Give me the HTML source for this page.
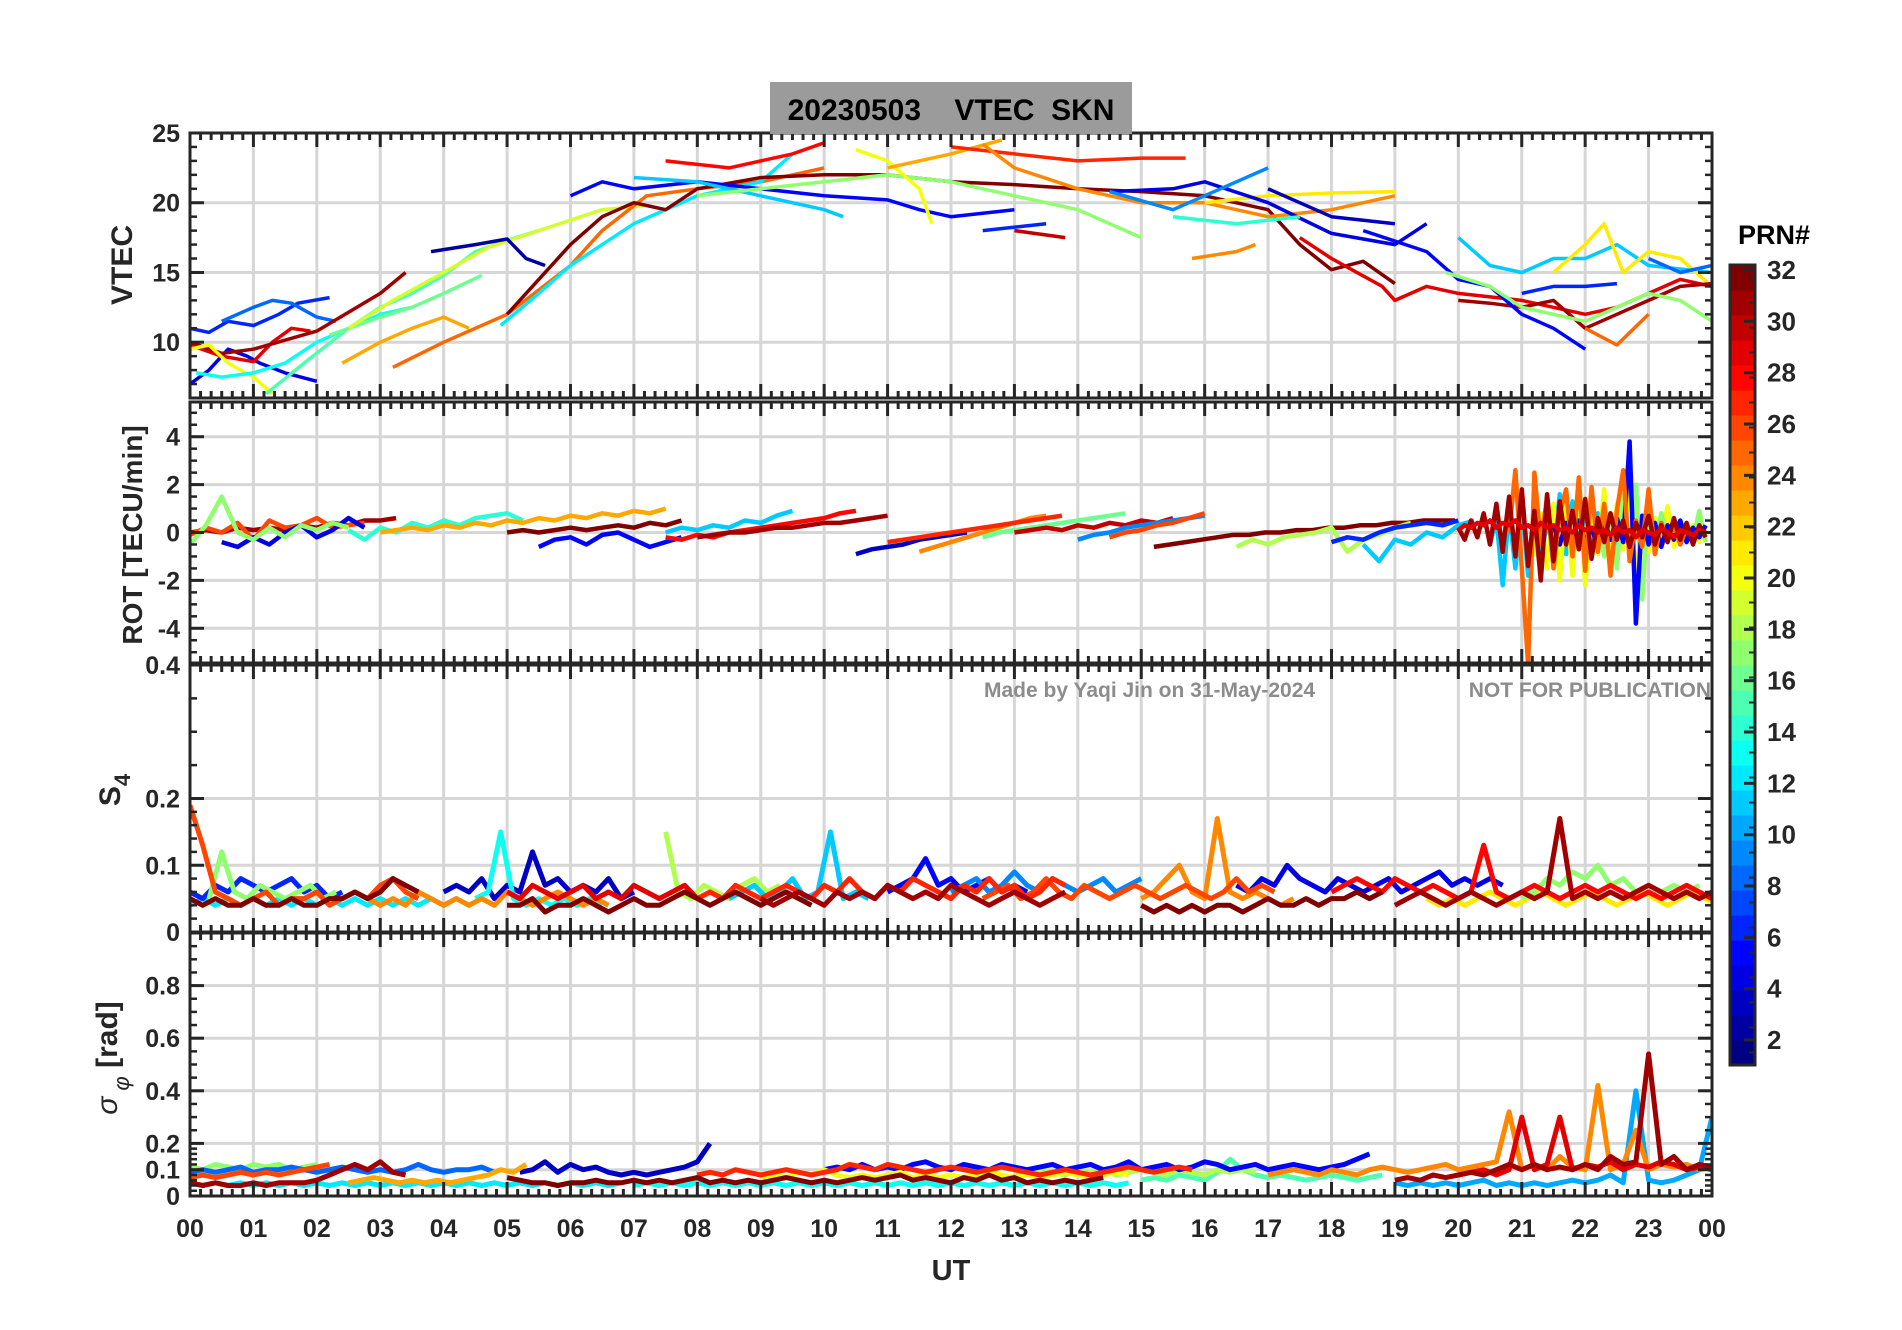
<!DOCTYPE html>
<html><head><meta charset="utf-8">
<style>
html,body{margin:0;padding:0;background:#fff;}
svg{display:block;font-family:"Liberation Sans",Arial,sans-serif;}
</style></head>
<body>
<svg id="chart" xmlns="http://www.w3.org/2000/svg" width="1902" height="1330" viewBox="0 0 1902 1330"></svg>
<script>
// ---------- DATA ----------
const hourTicks = ["00","01","02","03","04","05","06","07","08","09","10","11","12","13","14","15","16","17","18","19","20","21","22","23","00"];
const vtecTicks = [10,15,20,25];
const rotTicks = [-4,-2,0,2,4];
const s4Ticks = [0,0.1,0.2,0.4];
const sigTicks = [0,0.1,0.2,0.4,0.6,0.8];
const prnTicks = [2,4,6,8,10,12,14,16,18,20,22,24,26,28,30,32];

// VTEC arcs: [prn, [[hour, value], ...]]
const vtecArcs = [
 [6,[[0,11],[0.3,10.7],[0.6,11.5],[1,11.2],[1.4,12],[1.7,12.8],[2.2,13.2]]],
 [8,[[0.5,11.5],[1,12.5],[1.3,13],[1.6,12.8],[2,11.8],[2.3,11.5]]],
 [4,[[0,7],[0.3,8],[0.6,9.5],[0.9,9],[1.1,8.5],[1.5,7.8],[2,7.2]]],
 [29,[[0,9.8],[0.5,9],[1,8.6],[1.3,10],[1.6,11],[1.9,10.8]]],
 [31,[[0,10],[0.5,9.2],[1,9.5],[2,10.8],[3,13.5],[3.4,15]]],
 [20,[[0,9.5],[0.3,9.8],[0.6,8.5],[1,7.5],[1.3,6.3]]],
 [13,[[0.1,7.8],[0.5,7.5],[1,7.8],[1.5,8.5],[2,10],[2.5,11],[3,12],[3.5,12.5]]],
 [15,[[1.2,6.3],[1.8,8.5],[2.5,11],[3,12.5],[3.5,13.5],[4,14.8],[4.5,16.5],[5,17.3],[5.5,18]]],
 [16,[[2.2,10.5],[3,11.8],[3.5,12.5],[4,13.5],[4.6,14.8]]],
 [19,[[2.5,11],[3.2,13],[4,15],[4.7,16.8],[5.5,18],[6.5,19.5],[7.2,19.8]]],
 [23,[[2.4,8.5],[3,10],[3.5,11],[4,11.8],[4.4,11]]],
 [25,[[3.2,8.2],[4,10],[5,12],[6,15.5],[6.5,18],[7.2,20.5],[8,21],[9,21.5],[10,22.5]]],
 [12,[[4.9,11.2],[5.5,13.5],[6,15.5],[6.5,17],[7,18.5],[8,20.5],[9,21.5],[9.5,23.5]]],
 [32,[[5,12],[5.5,14.5],[6,17],[6.5,19],[7,20],[7.5,19.5],[8,21],[9,21.8],[10,22],[11,22],[12,21.5],[13,21.3],[14,21],[15,20.8],[16,20.5],[17,19.5],[17.5,17],[18,15.2],[18.5,15.8],[19,14.2]]],
 [2,[[3.8,16.5],[4.5,17],[5,17.4],[5.3,16],[5.6,15.5]]],
 [5,[[6,20.5],[6.5,21.5],[7,21],[8,21.5],[9,21],[10,20.5],[11,20.2],[11.5,19.5],[12,19],[13,19.5]]],
 [11,[[7,21.8],[8,21.5],[9,20.5],[10,19.5],[10.3,19]]],
 [17,[[8,20.5],[9,21],[10,21.5],[11,22],[12,21.5],[13,20.5],[14,19.5],[15,17.5]]],
 [20,[[10.5,23.8],[11,23],[11.5,21],[11.7,18.5]]],
 [23,[[11,22.5],[12,23.5],[12.8,24.5]]],
 [28,[[7.5,23],[8.5,22.5],[9.5,23.5],[10,24.3]]],
 [27,[[12,24],[13,23.5],[14,23],[15,23.2],[15.7,23.2]]],
 [24,[[12.5,24.2],[13,22.5],[14,21],[15,20],[16,20],[17,19],[18,19.5],[19,20.5]]],
 [21,[[16,20],[17,20.5],[18,20.7],[19,20.8]]],
 [4,[[14.5,20.8],[15.5,21],[16,21.5],[17,20],[18,17.8],[19,17],[19.5,18.5]]],
 [3,[[17,21],[18,19],[19,18.5]]],
 [9,[[14.5,20.8],[15.5,19.5],[16.5,21.5],[17,22.5]]],
 [14,[[15.5,19],[16.5,18.5],[17.5,19]]],
 [24,[[15.8,16],[16.5,16.5],[16.8,17]]],
 [30,[[13,18],[13.8,17.5]]],
 [6,[[12.5,18],[13.5,18.5]]],
 [29,[[17.5,17.5],[18,16],[18.8,14],[19,13],[19.5,14],[20,13.5],[21,13],[22,12],[22.5,12.5],[23,13.5],[23.5,14.5],[24,14]]],
 [11,[[20,17.5],[20.5,15.5],[21,15],[21.5,16],[22,16],[22.5,17],[23,15.5],[24,15]]],
 [21,[[21.5,15],[22,17],[22.3,18.5],[22.6,15],[23,16.5],[23.5,16],[24,14]]],
 [6,[[21,13.5],[21.5,14],[22,14],[22.5,14.2]]],
 [31,[[20,13],[20.5,12.8],[21,12.5],[21.5,13],[22,11],[22.5,12],[23,13],[23.5,14],[24,14.2]]],
 [25,[[22,11],[22.5,9.8],[23,12]]],
 [5,[[18.5,18],[19.5,16.5],[20,14.5],[20.5,14],[21,12],[21.5,11],[22,9.5]]],
 [17,[[19.8,15],[20.5,14],[21,12.5],[22,11.5],[23,13.5],[23.5,13],[24,11.5]]],
 [8,[[23,16],[23.5,15],[24,15.5]]]
];

// ROT arcs: [prn, startHour, stepHours, values]
const rotArcs = [
 [31,0,0.25,[0,0.1,0,0.2,0.1,0.2,0.1,0.3,0.2,0.4,0.3,0.5,0.5,0.6]],
 [26,0,0.25,[-0.1,0.2,0,0.4,-0.3,0.5,0.2,0.3,0.6,0.2,0.3,0.4]],
 [4,0.5,0.25,[-0.4,-0.6,-0.2,-0.5,0,0.3,-0.2,0.1,0.6,0.2]],
 [17,0,0.25,[-0.5,0.3,1.5,0,-0.3,0.2,-0.2,0.3,0.1,0.4,0.2]],
 [14,2.5,0.25,[0.1,-0.3,0.2,0,0.4,0.2,0.5,0.3,0.6,0.7,0.8,0.5]],
 [23,3,0.25,[0,0.1,0.2,0.1,0.3,0.2,0.4,0.3,0.5,0.4,0.6,0.5,0.7,0.6,0.8,0.7,0.9,0.8,1.0]],
 [32,5,0.25,[0,0.1,0,0.1,0.2,0.1,0.2,0.3,0.2,0.4,0.3,0.5]],
 [5,5.5,0.25,[-0.6,-0.3,-0.2,-0.5,-0.1,0,-0.3,-0.6,-0.4,-0.2]],
 [11,7.5,0.25,[0,0.2,0.1,0.3,0.2,0.5,0.4,0.7,0.9]],
 [28,7.5,0.25,[-0.2,-0.3,-0.1,-0.2,0,0.1,0.2,0.3,0.4,0.5,0.6,0.8,0.9]],
 [31,8,0.25,[-0.2,-0.1,0,0,0.1,0.2,0.2,0.3,0.4,0.4,0.5,0.6,0.7]],
 [3,10.5,0.25,[-0.9,-0.7,-0.6,-0.5,-0.3,-0.2,-0.1,0]],
 [24,11.5,0.25,[-0.8,-0.6,-0.4,-0.2,0,0.2,0.4,0.6,0.7]],
 [27,11,0.25,[-0.4,-0.3,-0.2,-0.1,0,0.1,0.2,0.3,0.4,0.5,0.6,0.7]],
 [16,12.5,0.25,[-0.2,0,0.1,0.2,0.3,0.4,0.5,0.6,0.7,0.8]],
 [30,13,0.25,[0,0.1,0.2,0.1,0.3,0.2,0.4,0.3,0.5,0.4,0.6]],
 [9,14,0.25,[-0.3,-0.1,0,0.2,0.3,0.4,0.5,0.6,0.7]],
 [26,14.5,0.25,[-0.2,0,0.1,0.3,0.4,0.6,0.8]],
 [32,15.2,0.25,[-0.6,-0.5,-0.4,-0.3,-0.2,-0.1,-0.1,0,0,0.1,0.1,0.2,0.2,0.3,0.3,0.4,0.4,0.5,0.5,0.5]],
 [18,16.5,0.25,[-0.6,-0.3,-0.5,-0.2,-0.1,0,0.2,-0.8,-0.3,-0.1,0.2,0.4]],
 [11,18.5,0.25,[-0.5,-1.2,-0.3,-0.5,0,-0.2,0.3,0.5]],
 [6,18,0.25,[-0.4,-0.2,-0.3,0,0.2,0.3,0.4,0.3,0.5]],
 [11,20.5,0.1,[-0.5,0.6,-2.2,0.9,-1.5,1.2,-1.8,0.7,-1.1,0.5,-0.8,1.6,-0.9,1.3,-0.6,0.9,-0.4,0.8,-0.5,0.6,-0.7,0.4,-0.3,0.5,-0.4,0.3,-0.6,0.5,-0.3,0.4,-0.2,0.3,-0.4,0.2,-0.3]],
 [20,21.2,0.1,[-1,0.8,-1.5,1.2,-2,1.5,-1.8,1.9,-2.2,0.6,-0.9,1.8,-1.6,1.2,-0.7,2.2,-1.9,0.4,-0.8,0.6,-0.3,1.1,-0.6,0.4,-0.2,0.3,-0.4,0.2]],
 [17,22.2,0.1,[0.5,-1.0,0.8,-1.5,1.6,-0.8,2.0,-2.8,1.2,-0.6,0.8,-0.4,0.6,-0.5,0.3,-0.3,0.9,-0.4]],
 [5,21.5,0.1,[0.3,-0.5,0.4,-0.3,0.5,-0.4,0.2,-0.6,0.5,-0.3,0.6,-0.4,3.8,-3.8,0.7,-0.5,0.4,-0.6,0.3,-0.3,0.5,-0.4,0.2,-0.2,0.3]],
 [25,20.8,0.1,[0,2.6,-1.5,-5.5,2.5,-0.5,1.5,-1.5,0.8,1.8,-1.0,2.3,-1.6,1.9,-0.8,1.2,-1.8,0.9,2.6,-1.2,0.5,-0.6,1.8,-0.9,0.4,-0.3,0.3,-0.5,0.2]],
 [31,20,0.1,[0.2,-0.3,0.5,-0.2,0.8,-0.5,1.2,-0.8,1.5,-1.0,1.8,-1.4,0.9,-2.0,1.6,-1.2,1.3,-0.5,0.9,-0.7,1.4,-1.1,0.6,-0.4,0.8,-0.3,0.5,-0.6,0.4,-0.2,0.7,-0.5,0.3,-0.4,0.6,-0.3,0.4,-0.5,0.3,-0.2]],
 [29,20,0.1,[0.1,0.3,0.2,0.4,0.3,0.5,0.2,0.4,0.3,0.5,0.2,0.3,0.1,0.4,0.2,0.3,0.1,0.2,0,0.3,0.1,0.2,0,0.1,-0.1,0.2,0,0.1,-0.2,0.1,0,-0.1,0.2,0,-0.2,0.1,0,-0.1,0.1,0]]
];

// S4 arcs: [prn, startHour, stepHours, values]
const s4Arcs = [
 [12,0,0.2,[0.04,0.05,0.04,0.05,0.04,0.05,0.04,0.05,0.04,0.05,0.04,0.05,0.04,0.05,0.04,0.05,0.04,0.05,0.04,0.05,0.04,0.05,0.04,0.05,0.04]],
 [6,0,0.2,[0.06,0.05,0.07,0.06,0.08,0.07,0.06,0.07,0.08,0.06,0.07,0.05,0.06]],
 [17,0.3,0.2,[0.05,0.12,0.06,0.05,0.07,0.06,0.05,0.06,0.07,0.05,0.06]],
 [3,4,0.2,[0.06,0.07,0.06,0.08,0.05,0.07,0.06,0.12,0.07,0.08,0.06,0.07,0.06,0.08,0.05,0.06]],
 [13,4.5,0.2,[0.05,0.06,0.15,0.05,0.04,0.05,0.04,0.05,0.04,0.05,0.04]],
 [18,7.5,0.2,[0.15,0.06,0.05,0.07,0.06,0.05,0.07,0.08,0.06,0.07]],
 [11,8.5,0.2,[0.05,0.06,0.07,0.05,0.06,0.08,0.05,0.06,0.15,0.05,0.06,0.05]],
 [5,11,0.2,[0.06,0.07,0.08,0.11,0.07,0.08,0.06,0.07,0.08,0.06,0.07,0.06]],
 [9,12,0.2,[0.06,0.07,0.08,0.06,0.07,0.09,0.07,0.06,0.08,0.07,0.06,0.07,0.08,0.06,0.07,0.08]],
 [4,16.5,0.2,[0.07,0.06,0.08,0.07,0.1,0.08,0.07,0.06,0.08,0.07,0.06,0.07,0.08,0.06,0.07,0.08,0.09,0.07,0.08,0.07,0.08,0.07]],
 [21,19.5,0.2,[0.05,0.04,0.05,0.04,0.05,0.06,0.05,0.04,0.05,0.06,0.05,0.04,0.05,0.06,0.05,0.04,0.05,0.06,0.05,0.04,0.05,0.06,0.05,0.04]],
 [17,21,0.2,[0.05,0.06,0.08,0.07,0.09,0.08,0.1,0.07,0.08,0.06,0.07,0.06,0.07,0.06,0.07]],
 [24,2.8,0.2,[0.05,0.04,0.05,0.04,0.06,0.05,0.04,0.05,0.04,0.05,0.04,0.06,0.05,0.04,0.05,0.06,0.05,0.04,0.05,0.04]],
 [24,15,0.2,[0.05,0.06,0.08,0.1,0.06,0.05,0.17,0.06,0.05,0.06,0.05,0.04,0.05]],
 [26,0,0.2,[0.19,0.13,0.06,0.05,0.04,0.05,0.06,0.04,0.05,0.05,0.06,0.04,0.05,0.06,0.05,0.07,0.08,0.06,0.05]],
 [29,5,0.2,[0.06,0.05,0.07,0.06,0.05,0.06,0.07,0.05,0.06,0.05,0.07,0.06,0.05,0.06,0.07,0.05]],
 [26,12.5,0.2,[0.05,0.06,0.07,0.05,0.06,0.08,0.06,0.05,0.07,0.06,0.05,0.06,0.07,0.06,0.05,0.06,0.07,0.06,0.05,0.06,0.08,0.06,0.07,0.06]],
 [27,8,0.2,[0.05,0.06,0.05,0.07,0.06,0.05,0.06,0.07,0.06,0.05,0.07,0.06,0.08,0.06,0.05,0.07,0.06,0.08,0.07,0.06,0.05,0.07,0.06,0.08,0.06,0.07,0.05,0.06,0.08,0.07]],
 [28,18,0.2,[0.06,0.07,0.08,0.07,0.06,0.08,0.07,0.06,0.07,0.06,0.05,0.06,0.13,0.06,0.05,0.06,0.07,0.06,0.05,0.06,0.07,0.06,0.07,0.06,0.05,0.06,0.05,0.06,0.07,0.06,0.05]],
 [32,0,0.2,[0.05,0.04,0.05,0.04,0.04,0.05,0.04,0.04,0.05,0.04,0.04,0.05,0.05,0.06,0.05,0.06,0.08,0.07,0.06]],
 [32,5,0.2,[0.04,0.04,0.05,0.03,0.04,0.04,0.05,0.04,0.03,0.04,0.05,0.04,0.04,0.05,0.06,0.05,0.04,0.05,0.06,0.05,0.04,0.05,0.06,0.05,0.04]],
 [31,9,0.2,[0.05,0.04,0.05,0.06,0.05,0.04,0.06,0.05,0.06,0.05,0.07,0.06,0.05,0.06,0.05,0.07,0.06,0.05,0.04,0.05,0.06,0.05,0.04,0.05,0.06]],
 [32,15,0.2,[0.04,0.03,0.04,0.03,0.04,0.03,0.04,0.04,0.03,0.04,0.05,0.04,0.04,0.05,0.04,0.05,0.05,0.06,0.05,0.06]],
 [31,19,0.2,[0.04,0.05,0.06,0.05,0.04,0.05,0.06,0.05,0.04,0.05,0.06,0.05,0.06,0.17,0.05,0.06,0.05,0.06,0.05,0.06,0.07,0.06,0.05,0.06,0.05,0.06]]
];

// Sigma-phi arcs: [prn, startHour, stepHours, values]
const sigArcs = [
 [17,0,0.2,[0.11,0.1,0.12,0.11,0.1,0.12,0.11,0.12,0.1,0.11,0.12]],
 [8,0,0.2,[0.09,0.1,0.09,0.1,0.11,0.09,0.1,0.1,0.11,0.1,0.09,0.1,0.11,0.1,0.09,0.1,0.09,0.1,0.12,0.1,0.09,0.1,0.1,0.11,0.09]],
 [12,0,0.2,[0.05,0.04,0.05,0.04,0.05,0.04,0.05,0.04,0.05,0.04,0.05,0.04,0.05,0.04,0.05,0.04,0.05,0.04,0.05,0.04,0.05,0.04,0.05,0.04,0.05,0.04,0.05,0.04,0.05,0.04,0.05,0.04,0.05,0.04,0.05]],
 [13,7,0.2,[0.04,0.05,0.04,0.05,0.04,0.05,0.04,0.05,0.04,0.05,0.04,0.05,0.04,0.05,0.04,0.05,0.04,0.05,0.04,0.05,0.04,0.05,0.04,0.05,0.04,0.05,0.04,0.05,0.04,0.05,0.04,0.05,0.04,0.05,0.04,0.05,0.04,0.05,0.04,0.05]],
 [10,19,0.2,[0.05,0.04,0.05,0.04,0.05,0.04,0.05,0.06,0.04,0.05,0.04,0.05,0.04,0.05,0.06,0.05,0.06,0.08,0.05,0.4,0.06,0.05,0.06,0.08,0.1,0.3]],
 [15,15,0.2,[0.06,0.07,0.06,0.08,0.07,0.06,0.09,0.14,0.1,0.08,0.07,0.08,0.07,0.06,0.07,0.08,0.07,0.06,0.07,0.08]],
 [18,13,0.2,[0.09,0.08,0.1,0.09,0.08,0.1,0.09,0.1,0.08,0.09,0.1,0.09,0.08,0.1,0.09,0.08,0.1,0.09,0.1,0.09]],
 [3,5.2,0.2,[0.09,0.1,0.13,0.09,0.12,0.1,0.11,0.09,0.08,0.09,0.08,0.09,0.1,0.11,0.13,0.2]],
 [5,10,0.2,[0.1,0.11,0.1,0.12,0.1,0.11,0.1,0.12,0.13,0.11,0.1,0.12,0.11,0.1,0.12,0.11,0.1,0.11,0.12,0.1,0.11,0.12,0.1,0.11,0.13,0.1,0.11,0.12,0.1,0.11,0.13,0.12,0.1,0.11,0.12,0.1,0.11,0.12,0.11,0.1,0.11,0.12,0.14,0.16]],
 [20,9,0.2,[0.07,0.08,0.07,0.09,0.08,0.1,0.08,0.07,0.08,0.07,0.08,0.09,0.07,0.08,0.07,0.08,0.07,0.08,0.09,0.08,0.07,0.08,0.07,0.08,0.09,0.08,0.07,0.08,0.09,0.08]],
 [23,2.5,0.2,[0.05,0.06,0.07,0.06,0.05,0.06,0.05,0.06,0.05,0.06,0.07,0.08,0.1,0.09,0.12]],
 [26,0,0.2,[0.07,0.08,0.07,0.08,0.09,0.08,0.09,0.08,0.09,0.1,0.11,0.12]],
 [27,8,0.2,[0.08,0.09,0.08,0.1,0.09,0.08,0.09,0.1,0.09,0.08,0.09,0.1,0.12,0.11,0.1,0.12,0.11,0.1,0.09,0.1,0.11,0.1,0.09,0.1,0.11,0.1,0.09,0.08,0.09,0.1,0.09,0.08,0.09,0.1,0.11,0.1,0.09,0.1,0.11,0.1]],
 [24,17,0.2,[0.08,0.09,0.1,0.09,0.08,0.1,0.09,0.08,0.1,0.11,0.1,0.09,0.1,0.11,0.12,0.1,0.11,0.12,0.13,0.32,0.1,0.12,0.1,0.15,0.11,0.1,0.42,0.1,0.12,0.25,0.1,0.12,0.11,0.12,0.1,0.11]],
 [29,20,0.2,[0.08,0.09,0.1,0.08,0.1,0.3,0.1,0.12,0.3,0.1,0.12,0.11,0.13,0.1,0.12,0.11,0.13,0.12,0.1,0.11,0.1]],
 [31,0,0.2,[0.05,0.04,0.05,0.04,0.04,0.05,0.04,0.05,0.05,0.05,0.06,0.08,0.1,0.12,0.1,0.13,0.09,0.08]],
 [32,5,0.2,[0.07,0.06,0.05,0.05,0.04,0.05,0.05,0.06,0.05,0.05,0.06,0.05,0.06,0.05,0.06,0.07,0.05,0.06,0.05,0.06,0.05,0.06,0.07,0.06,0.05,0.06,0.05,0.06,0.07,0.06,0.07,0.08,0.06,0.07,0.06,0.05,0.07,0.06,0.08,0.06,0.07,0.05,0.06,0.05,0.06,0.05,0.06,0.07]],
 [31,19,0.2,[0.06,0.07,0.06,0.08,0.07,0.08,0.09,0.08,0.1,0.12,0.1,0.12,0.1,0.11,0.1,0.12,0.1,0.15,0.12,0.13,0.54,0.12,0.15,0.1,0.12,0.11]]
];

// ---------- LAYOUT ----------
const NS = "http://www.w3.org/2000/svg";
const svg = document.getElementById("chart");
const XL = 190, XR = 1712;
const X = h => XL + h * (XR - XL) / 24;
const INK = "#262626";
const panels = [
 {id:"vtec", top:133, bot:398, min:6, max:25},
 {id:"rot", top:402, bot:663, min:-5.45, max:5.45},
 {id:"s4", top:665, bot:932, min:0, max:0.4},
 {id:"sigma", top:933, bot:1196, min:0, max:1}
];
const Yf = p => v => p.bot - (v - p.min) * (p.bot - p.top) / (p.max - p.min);

function el(tag, attrs, parent) {
  const e = document.createElementNS(NS, tag);
  for (const k in attrs) e.setAttribute(k, attrs[k]);
  (parent || svg).appendChild(e);
  return e;
}
function jet(p) {
  const t = (p - 1) / 31;
  const c = x => Math.round(255 * Math.max(0, Math.min(1, 1.5 - Math.abs(x))));
  return `rgb(${c(4*t-3)},${c(4*t-2)},${c(4*t-1)})`;
}

const defs = el("defs", {});
panels.forEach(p => {
  const cp = el("clipPath", {id: "clip-" + p.id}, defs);
  el("rect", {x: XL, y: p.top, width: XR - XL, height: p.bot - p.top}, cp);
});

// grids
panels.forEach((p, i) => {
  const g = el("g", {});
  
  
  const Y = Yf(p);
  for (let h = 1; h < 24; h++) el("line", {x1: X(h), x2: X(h), y1: p.top, y2: p.bot, stroke: "#d6d6d6", "stroke-width": 3}, g);
  const ticks = [vtecTicks, rotTicks, s4Ticks, sigTicks][i];
  ticks.forEach(v => { const y = Y(v); if (y > p.top + 2 && y < p.bot - 2) el("line", {x1: XL, x2: XR, y1: y, y2: y, stroke: "#d6d6d6", "stroke-width": 3}, g); });
});

// series
function drawLine(p, pts, prn, w, name) {
  const Y = Yf(p);
  const d = pts.map((q, k) => (k ? "L" : "M") + X(q[0]).toFixed(1) + " " + Y(q[1]).toFixed(1)).join("");
  const path = el("path", {d: d, fill: "none", stroke: jet(prn), "stroke-width": w, "stroke-linejoin": "round", "clip-path": "url(#clip-" + p.id + ")"});
  
  
}
vtecArcs.forEach(a => drawLine(panels[0], a[1], a[0], 3.5, 'vtec-prn' + a[0]));
function arcPts(a) { return a[3].map((v, k) => [a[1] + k * a[2], v]); }
rotArcs.forEach(a => drawLine(panels[1], arcPts(a), a[0], 4.5, 'rot-prn' + a[0]));
s4Arcs.forEach(a => drawLine(panels[2], arcPts(a), a[0], 5, 's4-prn' + a[0]));
sigArcs.forEach(a => drawLine(panels[3], arcPts(a), a[0], 5, 'sigma-prn' + a[0]));

// axes frames & ticks
function yMinor(i) {
  const r = [];
  if (i === 0) { for (let k = 7; k <= 25; k++) r.push(k); return r; }
  if (i === 1) { for (let k = -10; k <= 10; k++) r.push(k / 2); return r; }
  for (let k = 1; k < 10; k++) r.push(k * 0.02);
  const top = i === 2 ? 8 : 20;
  for (let k = 5; k < top; k++) r.push(k * 0.05);
  return r;
}
panels.forEach((p, i) => {
  const g = el("g", {});
  
  
  const Y = Yf(p);
  el("rect", {x: XL, y: p.top, width: XR - XL, height: p.bot - p.top, fill: "none", stroke: INK, "stroke-width": 3}, g);
  for (let m = 1; m < 144; m++) {
    const x = X(m / 6), L = (m % 6 === 0) ? 14 : 7;
    el("line", {x1: x, x2: x, y1: p.top, y2: p.top + L, stroke: INK, "stroke-width": 3}, g);
    el("line", {x1: x, x2: x, y1: p.bot, y2: p.bot - L, stroke: INK, "stroke-width": 3}, g);
  }
  const majors = [vtecTicks, rotTicks, s4Ticks, sigTicks][i];
  yMinor(i).forEach(v => {
    const y = Y(v); if (y <= p.top + 1 || y >= p.bot - 1) return;
    el("line", {x1: XL, x2: XL + 7, y1: y, y2: y, stroke: INK, "stroke-width": 2.5}, g);
    el("line", {x1: XR, x2: XR - 7, y1: y, y2: y, stroke: INK, "stroke-width": 2.5}, g);
  });
  majors.forEach(v => {
    const y = Y(v);
    el("line", {x1: XL, x2: XL + 14, y1: y, y2: y, stroke: INK, "stroke-width": 3}, g);
    el("line", {x1: XR, x2: XR - 14, y1: y, y2: y, stroke: INK, "stroke-width": 3}, g);
    const t = el("text", {x: XL - 10, y: y + 9, "text-anchor": "end", "font-size": 25, "font-weight": "bold", fill: INK}, g);
    t.textContent = String(v);
    
    
  });
});

// x tick labels
hourTicks.forEach((lab, h) => {
  const t = el("text", {x: X(h), y: 1237, "text-anchor": "middle", "font-size": 25, "font-weight": "bold", fill: INK});
  t.textContent = lab;
  
  
});

// colorbar
const CB = {x: 1730, w: 25, top: 265, bot: 1065};
const cbY = v => 1040 - (v - 2) * (1040 - 270) / 30;
const cbg = el("g", {});


for (let k = 1; k <= 32; k++) {
  const y0 = CB.bot - (k) * (CB.bot - CB.top) / 32, hh = (CB.bot - CB.top) / 32;
  el("rect", {x: CB.x, y: y0, width: CB.w, height: hh + 0.6, fill: jet(k)}, cbg);
  const ym = y0 + hh / 2;
  el("line", {x1: CB.x + CB.w, x2: CB.x + CB.w - 6, y1: ym, y2: ym, stroke: INK, "stroke-width": 2}, cbg);
}
el("rect", {x: CB.x, y: CB.top, width: CB.w, height: CB.bot - CB.top, fill: "none", stroke: INK, "stroke-width": 3}, cbg);
prnTicks.forEach(v => {
  const y = cbY(v);
  el("line", {x1: CB.x + CB.w, x2: CB.x + CB.w - 11, y1: y, y2: y, stroke: INK, "stroke-width": 3}, cbg);
  const t = el("text", {x: 1767, y: y + 9, "font-size": 26, "font-weight": "bold", fill: INK}, cbg);
  t.textContent = v;
  
  
});
</script>

<script>
(function(){
  const NS = "http://www.w3.org/2000/svg", svg = document.getElementById("chart");
  function t(attrs, txt, name) {
    const e = document.createElementNS(NS, "text");
    for (const k in attrs) e.setAttribute(k, attrs[k]);
    e.textContent = txt;
    
    
    svg.appendChild(e); return e;
  }
  const box = document.createElementNS(NS, "rect");
  [["x",770],["y",82],["width",362],["height",52],["fill","#9b9b9b"]].forEach(a => box.setAttribute(a[0], a[1]));
  
  
  svg.appendChild(box);
  t({x: 951, y: 120, "text-anchor": "middle", "font-size": 30, "font-weight": "bold", fill: "#000", style: "white-space:pre"}, "20230503    VTEC  SKN", "chart-title");
  t({x: 951, y: 1280, "text-anchor": "middle", "font-size": 29, "font-weight": "bold", fill: "#262626"}, "UT", "x-axis-title");
  t({x: 1738, y: 244, "font-size": 27, "font-weight": "bold", fill: "#000"}, "PRN#", "colorbar-title");
  t({x: 984, y: 697, "font-size": 21, "font-weight": "bold", fill: "#8c8c8c"}, "Made by Yaqi Jin on 31-May-2024", "watermark-author");
  t({x: 1711, y: 697, "text-anchor": "end", "font-size": 21, "font-weight": "bold", fill: "#8c8c8c"}, "NOT FOR PUBLICATION", "watermark-notice");
  t({x: 0, y: 0, transform: "translate(132,265) rotate(-90)", "text-anchor": "middle", "font-size": 30, "font-weight": "bold", fill: "#262626"}, "VTEC", "vtec-axis-title");
  t({x: 0, y: 0, transform: "translate(142,535) rotate(-90)", "text-anchor": "middle", "font-size": 28, "font-weight": "bold", fill: "#262626"}, "ROT [TECU/min]", "rot-axis-title");
  const s4 = t({x: 0, y: 0, transform: "translate(120,790) rotate(-90)", "text-anchor": "middle", "font-size": 30, "font-weight": "bold", fill: "#262626"}, "S", "s4-axis-title");
  const sub = document.createElementNS(NS, "tspan");
  sub.setAttribute("dy", "10"); sub.setAttribute("font-size", "22"); sub.textContent = "4";
  s4.appendChild(sub);
  const sg = t({x: 0, y: 0, transform: "translate(117,1058) rotate(-90)", "text-anchor": "middle", "font-size": 30, "font-weight": "bold", fill: "#262626"}, "", "sigma-axis-title");
  const a = document.createElementNS(NS, "tspan"); a.setAttribute("font-style", "italic"); a.setAttribute("font-weight", "normal"); a.textContent = "σ"; sg.appendChild(a);
  const b = document.createElementNS(NS, "tspan"); b.setAttribute("font-style", "italic"); b.setAttribute("font-weight", "normal"); b.setAttribute("font-size", "22"); b.setAttribute("dy", "12"); b.textContent = " φ"; sg.appendChild(b);
  const c = document.createElementNS(NS, "tspan"); c.setAttribute("dy", "-12"); c.textContent = " [rad]"; sg.appendChild(c);
})();
</script>
</body></html>
